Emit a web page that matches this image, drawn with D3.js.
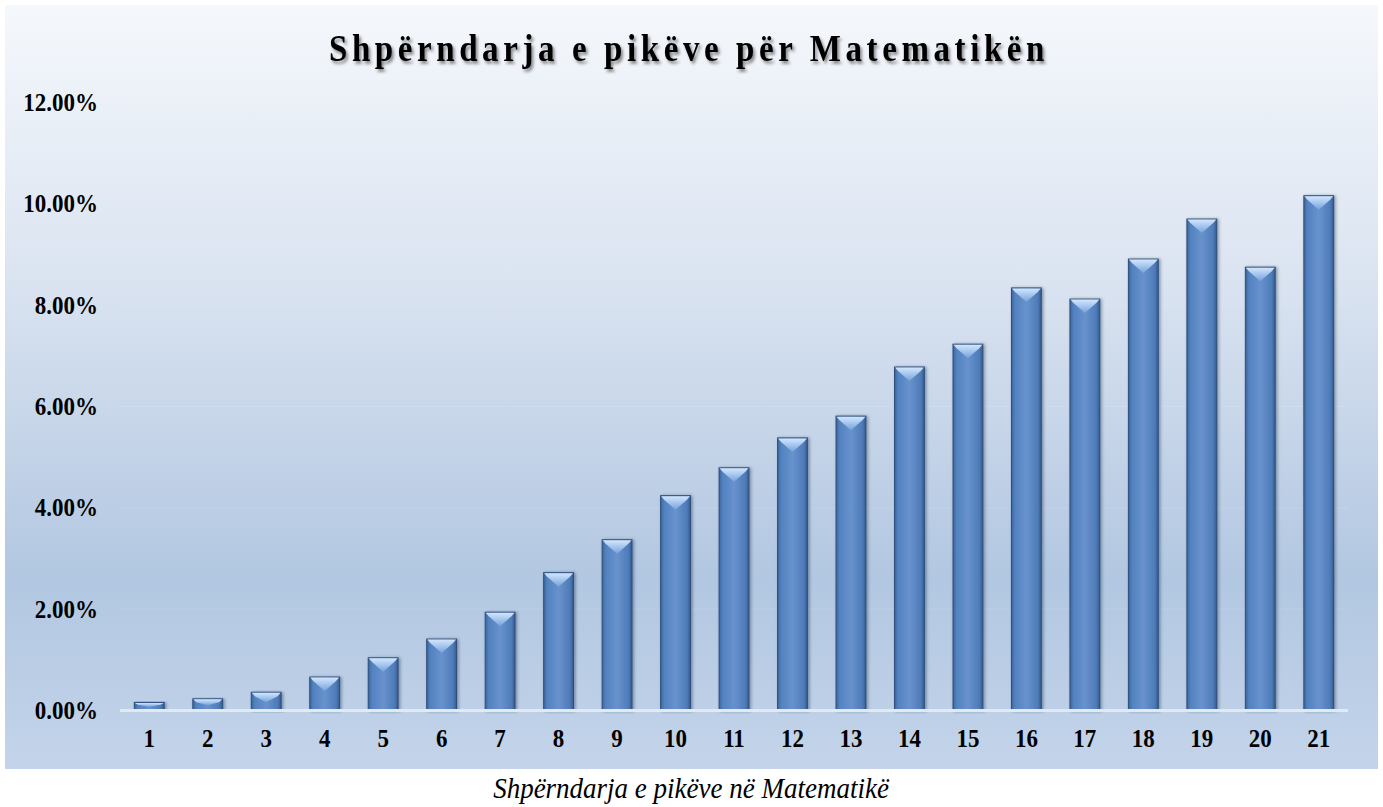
<!DOCTYPE html>
<html>
<head>
<meta charset="utf-8">
<script src="https://cdn.jsdelivr.net/npm/d3@7"></script>
<style>
    body { margin: 0; background: #ffffff; }
    svg text { font-family: "Liberation Serif", "Times New Roman", serif; }
</style>
</head>
<body>
<div id="chart"></div>
<script>
// Data
const categories = ["1", "2", "3", "4", "5", "6", "7", "8", "9", "10", "11",
    "12", "13", "14", "15", "16", "17", "18", "19", "20", "21"];
const shares = [0.0016, 0.0023, 0.0036, 0.0066, 0.0104, 0.0141, 0.0194, 0.0272, 0.0337, 0.0424, 0.0479,
    0.0538, 0.0581, 0.0678, 0.0723, 0.0834, 0.0812, 0.0891, 0.0970, 0.0875, 0.1016];
const yTicks = [0, 0.02, 0.04, 0.06, 0.08, 0.10, 0.12];
const titleText = "Shpërndarja e pikëve për Matematikën";
const captionText = "Shpërndarja e pikëve në Matematikë";

const W = 1383, H = 807;
const plot = {left: 120, right: 1348, top: 102.5, bottom: 710.5};
// glyphs in the reference are a bit taller than plain Times
const stretch = 1.12;

const svg = d3.select('#chart')
    .append('svg')
        .attr('width', W)
        .attr('height', H);

const defs = svg.append('defs');

// chart area background
const bg = defs.append('linearGradient')
    .attr('id', 'bgGrad')
    .attr('x1', 0).attr('y1', 0).attr('x2', 0).attr('y2', 1);
[[0, '#f5f8fc'], [0.35, '#dbe4f1'], [0.75, '#b2c7e1'], [1, '#c3d4ea']].forEach(s => {
    bg.append('stop').attr('offset', s[0]).attr('stop-color', s[1]);
});

// bar body: darker edges, lighter middle
const body = defs.append('linearGradient')
    .attr('id', 'barGrad')
    .attr('x1', 0).attr('y1', 0).attr('x2', 1).attr('y2', 0);
[[0, '#3b649c'], [0.12, '#5282c0'], [0.5, '#6892cd'], [0.88, '#4e7cb9'], [1, '#355b8f']].forEach(s => {
    body.append('stop').attr('offset', s[0]).attr('stop-color', s[1]);
});

// bar top bevel
const bevel = defs.append('linearGradient')
    .attr('id', 'bevelGrad')
    .attr('x1', 0).attr('y1', 0).attr('x2', 0).attr('y2', 1);
[[0, '#d3e6fc'], [0.45, '#a8c8f0'], [1, '#76a2d9']].forEach(s => {
    bevel.append('stop').attr('offset', s[0]).attr('stop-color', s[1]);
});

const shadow = defs.append('filter')
    .attr('id', 'barShadow')
    .attr('x', '-30%').attr('y', '-10%').attr('width', '160%').attr('height', '120%');
shadow.append('feDropShadow')
    .attr('dx', 1.5).attr('dy', 0.5).attr('stdDeviation', 1.6)
    .attr('flood-color', '#1a2c45').attr('flood-opacity', 0.45);

const titleShadow = defs.append('filter')
    .attr('id', 'titleShadow')
    .attr('x', '-5%').attr('y', '-30%').attr('width', '110%').attr('height', '160%');
titleShadow.append('feDropShadow')
    .attr('dx', 2).attr('dy', 2.5).attr('stdDeviation', 1.6)
    .attr('flood-color', '#000000').attr('flood-opacity', 0.45);

svg.append('rect')
    .attr('x', 5).attr('y', 5)
    .attr('width', 1373).attr('height', 764)
    .attr('fill', 'url(#bgGrad)');

const x = d3.scaleBand()
    .domain(categories)
    .range([plot.left, plot.right])
    .paddingInner(0.49)
    .paddingOuter(0.245);

const y = d3.scaleLinear()
    .domain([0, 0.12])
    .range([plot.bottom, plot.top]);

// faint gridlines
svg.append('g')
    .selectAll('line')
    .data(yTicks.slice(1))
    .enter().append('line')
        .attr('x1', plot.left).attr('x2', plot.right)
        .attr('y1', d => y(d)).attr('y2', d => y(d))
        .attr('stroke', '#ffffff')
        .attr('stroke-opacity', 0.12)
        .attr('stroke-width', 1);

// y axis
const yAxis = svg.append('g')
    .attr('transform', `translate(${plot.left},0)`)
    .call(d3.axisLeft(y)
        .tickValues(yTicks)
        .tickFormat(d3.format('.2%'))
        .tickSize(0)
        .tickPadding(22));
yAxis.select('.domain').remove();
yAxis.selectAll('text')
    .attr('dy', 0)
    .attr('transform', `translate(0,8) scale(1,${stretch})`)
    .attr('font-size', 23)
    .attr('font-weight', 'bold')
    .attr('fill', '#000000')
    .style('font-family', '"Liberation Serif", serif');

// x axis
const xAxis = svg.append('g')
    .attr('transform', `translate(0,${plot.bottom})`)
    .call(d3.axisBottom(x).tickSize(0));
xAxis.select('.domain').remove();
xAxis.selectAll('text')
    .attr('y', 0)
    .attr('dy', 0)
    .attr('transform', `translate(0,36.5) scale(1,${stretch})`)
    .attr('font-size', 23)
    .attr('font-weight', 'bold')
    .attr('fill', '#000000')
    .style('font-family', '"Liberation Serif", serif');

// bars
const bw = x.bandwidth();
const bars = svg.append('g')
    .selectAll('g.bar')
    .data(categories.map((c, i) => ({cat: c, v: shares[i]})))
    .enter().append('g')
        .attr('class', 'bar');

bars.append('rect')
    .attr('x', d => x(d.cat))
    .attr('y', d => y(d.v))
    .attr('width', bw)
    .attr('height', d => plot.bottom - y(d.v))
    .attr('fill', 'url(#barGrad)')
    .attr('stroke', '#2f4f7c')
    .attr('stroke-width', 1)
    .attr('filter', 'url(#barShadow)');

bars.append('path')
    .attr('d', d => {
        const x0 = x(d.cat), x1 = x0 + bw, top = y(d.v);
        const h = plot.bottom - top;
        const b = Math.min(14, h * 0.55);
        const side = Math.min(4, h * 0.3);
        return `M${x0 + 0.5},${top + 0.5} L${x1 - 0.5},${top + 0.5} L${x1 - 3.5},${top + side}`
            + ` L${(x0 + x1) / 2},${top + b} L${x0 + 3.5},${top + side} Z`;
    })
    .attr('fill', 'url(#bevelGrad)');

// baseline
svg.append('line')
    .attr('x1', plot.left).attr('x2', plot.right)
    .attr('y1', plot.bottom).attr('y2', plot.bottom)
    .attr('stroke', '#e3e9f1')
    .attr('stroke-width', 3);

// title
svg.append('g')
    .attr('transform', `translate(689,61) scale(1,${stretch})`)
    .append('text')
        .attr('text-anchor', 'middle')
        .attr('font-size', 33)
        .attr('font-weight', 'bold')
        .attr('letter-spacing', 4.6)
        .attr('fill', '#000000')
        .attr('filter', 'url(#titleShadow)')
        .text(titleText);

// caption under the chart
svg.append('g')
    .attr('transform', `translate(691,798) scale(1,${stretch})`)
    .append('text')
        .attr('text-anchor', 'middle')
        .attr('font-size', 27)
        .attr('font-style', 'italic')
        .attr('fill', '#000000')
        .text(captionText);
</script>
</body>
</html>
